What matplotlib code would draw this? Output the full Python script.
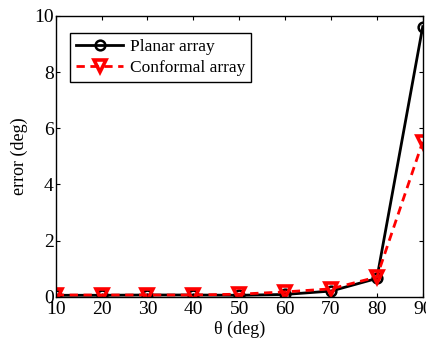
import numpy as np
import matplotlib.pyplot as plt

plt.rcParams['font.family'] = ['Liberation Serif', 'DejaVu Serif']

# Data
theta = [10, 20, 30, 40, 50, 60, 70, 80, 90]
planar = [0.05, 0.05, 0.06, 0.06, 0.05, 0.08, 0.20, 0.65, 9.62]
conformal = [0.06, 0.06, 0.06, 0.06, 0.09, 0.17, 0.28, 0.70, 5.52]

fig = plt.figure(figsize=(4.27, 3.40), dpi=100)
ax = fig.add_axes([0.1305, 0.1274, 0.8595, 0.8256])

ax.plot(theta, planar, color="black", linewidth=2, marker="o", markersize=7,
        markerfacecolor="none", markeredgewidth=1.8, label="Planar array")
ax.plot(theta, conformal, color="red", linewidth=2, linestyle="--", dashes=(3, 2),
        marker="v", markersize=8.5, markerfacecolor="none", markeredgewidth=2.6,
        label="Conformal array")

ax.set_xlim(10, 90)
ax.set_ylim(0, 10)
ax.set_xticks(theta)
ax.set_yticks([0, 2, 4, 6, 8, 10])
ax.tick_params(direction="in", top=True, right=True, labelsize=14, length=3)
ax.tick_params(axis="x", pad=3)
ax.tick_params(axis="y", pad=1.5)
ax.set_xlabel("θ (deg)", fontsize=13, labelpad=2)
ax.set_ylabel("error (deg)", fontsize=13, labelpad=4)
for s in ax.spines.values():
    s.set_linewidth(1)

leg = ax.legend(loc="upper left", bbox_to_anchor=(0.039, 0.939), borderaxespad=0,
                fontsize=12.5, fancybox=False, framealpha=1, edgecolor="black",
                handlelength=2.7, handletextpad=0.4, labelspacing=0.25,
                borderpad=0.35)
leg.get_frame().set_linewidth(1)

plt.savefig("out.png", dpi=100)
plt.close()
